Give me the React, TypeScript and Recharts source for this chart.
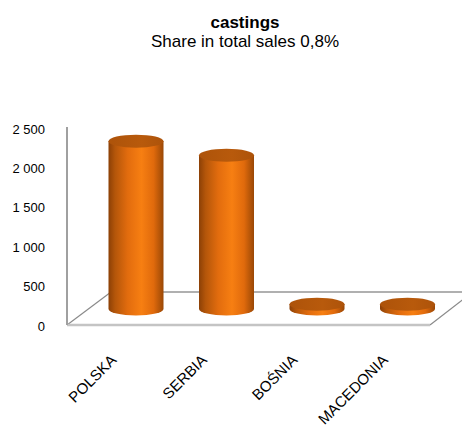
import React from 'react';
import { BarChart, Bar, XAxis, YAxis, Customized } from 'recharts';

// Sales of castings by country
const countries = ['POLSKA', 'SERBIA', 'BOŚNIA', 'MACEDONIA'];
const sales = [2130, 1950, 60, 60];
const yTicks = [0, 500, 1000, 1500, 2000, 2500];
const chartTitle = 'castings';
const chartSubtitle = 'Share in total sales 0,8%';

const data = countries.map((country, i) => ({ country, sales: sales[i] }));

// Layout constants
const W = 462;
const H = 427;
const MARGIN_TOP = 129;
const YAXIS_W = 90;
const XAXIS_H = 101;
const MARGIN_RIGHT = 10;
const PLOT_BOTTOM = H - XAXIS_H;
const PLOT_RIGHT = W - MARGIN_RIGHT;

// Half of the floor depth, used to place the cylinders mid-floor
const HALF_DX = 22;
const HALF_DY = 17;
const RY = 6.5;

const FONT = '"Liberation Sans", Arial, sans-serif';

const formatTick = (v: number) =>
  v >= 1000 ? `${Math.floor(v / 1000)} ${String(v % 1000).padStart(3, '0')}` : String(v);

const Cylinder = (props: any) => {
  const { x, y, width, height } = props;
  if (width == null || height == null) return null;
  const rx = width / 2;
  const cx = x + rx + 0.5;
  const yBottom = y + height - HALF_DY;
  const yTop = y - HALF_DY;
  const left = cx - rx;
  const right = cx + rx;
  const body = `M${left},${yTop} L${left},${yBottom} A${rx},${RY} 0 0 0 ${right},${yBottom} L${right},${yTop} Z`;
  return (
    <g>
      <path d={body} fill="url(#cylBody)" />
      <ellipse cx={cx} cy={yTop} rx={rx} ry={RY} fill="url(#cylTop)" />
    </g>
  );
};

const Scene = () => {
  const fx = YAXIS_W - HALF_DX - 1; // front-left corner x
  const fy = PLOT_BOTTOM - 1; // front edge y
  const frx = PLOT_RIGHT - HALF_DX; // front-right corner x
  const bx = fx + 2 * HALF_DX;
  const by = fy - 2 * HALF_DY + 1;
  const slope = (2 * HALF_DY) / (2 * HALF_DX);
  return (
    <g>
      <defs>
        <linearGradient id="cylBody" x1="0" y1="0" x2="1" y2="0">
          <stop offset="0%" stopColor="#8c4006" />
          <stop offset="12%" stopColor="#b4560a" />
          <stop offset="35%" stopColor="#e26c0e" />
          <stop offset="60%" stopColor="#f77f12" />
          <stop offset="82%" stopColor="#e06a0c" />
          <stop offset="100%" stopColor="#9a4806" />
        </linearGradient>
        <linearGradient id="cylTop" x1="0" y1="0" x2="1" y2="0">
          <stop offset="0%" stopColor="#ad530a" />
          <stop offset="60%" stopColor="#b85a0c" />
          <stop offset="100%" stopColor="#ad530a" />
        </linearGradient>
      </defs>
      <text x={245} y={28} textAnchor="middle" fontFamily={FONT} fontSize={17} fontWeight="bold" fill="#000">
        {chartTitle}
      </text>
      <text x={245} y={47} textAnchor="middle" fontFamily={FONT} fontSize={17} fill="#000">
        {chartSubtitle}
      </text>
      {/* floor */}
      <line x1={bx} y1={by} x2={W} y2={by} stroke="#b0b0b0" strokeWidth={2} />
      <line x1={fx} y1={fy} x2={bx} y2={by} stroke="#8a8a8a" strokeWidth={1.2} />
      <line x1={frx} y1={fy} x2={W + 2} y2={fy - slope * (W + 2 - frx)} stroke="#8a8a8a" strokeWidth={1.2} />
      <line x1={fx} y1={fy} x2={frx} y2={fy} stroke="#c4c4c4" strokeWidth={2.5} />
      {/* vertical axis edge */}
      <line x1={fx} y1={MARGIN_TOP - 2} x2={fx} y2={fy} stroke="#a0a0a0" strokeWidth={2} />
    </g>
  );
};

const CategoryTick = (props: any) => {
  const { x, y, payload } = props;
  const ax = x - 18;
  return (
    <text
      x={ax}
      y={y}
      transform={`rotate(-45, ${ax}, ${y})`}
      textAnchor="end"
      fontFamily={FONT}
      fontSize={15}
      fill="#000"
    >
      {payload.value}
    </text>
  );
};

export default function App() {
  return (
    <div style={{ position: 'absolute', left: 0, top: 0, width: W, height: H, background: '#fff' }}>
      <BarChart
        width={W}
        height={H}
        data={data}
        margin={{ top: MARGIN_TOP, right: MARGIN_RIGHT, bottom: 0, left: 0 }}
        barSize={55}
      >
        <Customized component={<Scene />} />
        <XAxis
          dataKey="country"
          height={XAXIS_H}
          axisLine={false}
          tickLine={false}
          tickSize={0}
          tickMargin={35}
          interval={0}
          tick={<CategoryTick />}
        />
        <YAxis
          width={YAXIS_W}
          domain={[0, 2500]}
          ticks={yTicks}
          axisLine={false}
          tickLine={false}
          tickSize={0}
          tickMargin={45}
          tickFormatter={formatTick}
          tick={{ fontFamily: FONT, fontSize: 13, fill: '#000' }}
        />
        <Bar dataKey="sales" shape={<Cylinder />} isAnimationActive={false} />
      </BarChart>
    </div>
  );
}
